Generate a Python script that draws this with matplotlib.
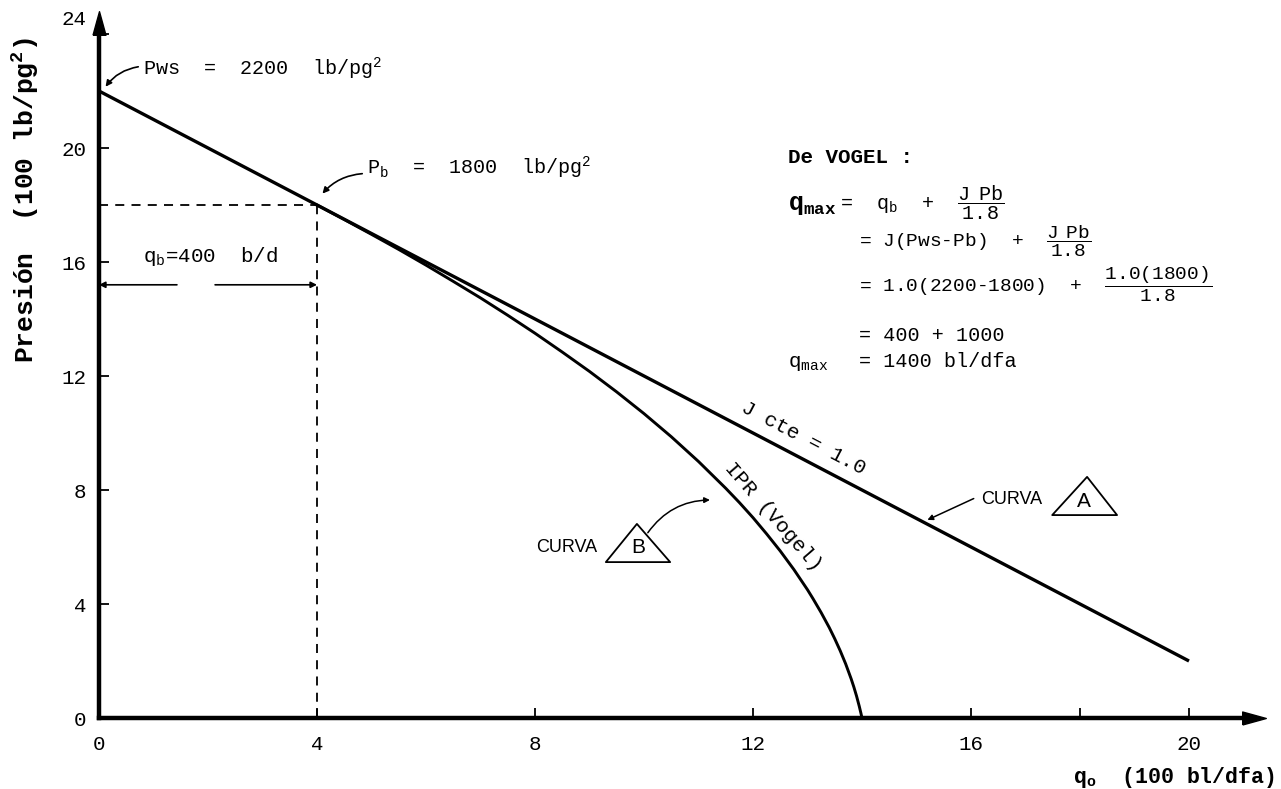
"""
IPR de Vogel vs. linea de J constante (curvas A y B), redibujado en matplotlib.
"""

import math

import matplotlib
matplotlib.use("Agg")
import matplotlib.pyplot as plt
from matplotlib.patches import Polygon
from matplotlib.transforms import ScaledTranslation


# --- datos (q en 100 bl/dia, P en 100 lb/pg2) ---
Q_LINEA_A = [0.0, 20.0]
P_LINEA_A = [22.0, 2.0]

Q_IPR = [4.0, 4.5, 5.0, 5.5, 6.0, 6.5, 7.0, 7.5, 8.0, 8.5, 9.0, 9.5, 10.0, 10.5,
         11.0, 11.5, 11.75, 12.0, 12.25, 12.5, 12.75, 13.0, 13.1, 13.25, 13.4,
         13.5, 13.6, 13.7, 13.8, 13.85, 13.9, 13.95, 13.98, 14.0]
P_IPR = [18.0, 17.49, 16.97, 16.44, 15.89, 15.32, 14.74, 14.13, 13.5, 12.84, 12.16,
         11.44, 10.68, 9.87, 9.0, 8.06, 7.56, 7.03, 6.46, 5.86, 5.21, 4.5, 4.19,
         3.7, 3.17, 2.78, 2.36, 1.9, 1.38, 1.09, 0.77, 0.41, 0.17, 0.0]

Q_B = 4.0      # gasto en el punto de burbuja
P_B = 18.0     # presion de burbuja
P_WS = 22.0    # presion estatica
P_COTA_QB = 15.2

X_TICKS = [0, 4, 8, 12, 16, 20]
X_MINOR_TICKS = [18]
Y_TICKS = [0, 4, 8, 12, 16, 20, 24]

# --- geometria de la figura ---
W_PX, H_PX = 1281, 789
X0_PX, Y0_PX = 99, 718
PX_POR_Q, PX_POR_P = 54.5, 28.5
X_MAX, Y_MAX = 21.2, 24.4

MONO = ["Liberation Mono", "DejaVu Sans Mono"]
SANS = ["Liberation Sans", "DejaVu Sans"]

plt.rcParams["font.family"] = MONO
plt.rcParams["mathtext.fontset"] = "custom"
plt.rcParams["mathtext.rm"] = "Liberation Mono"
plt.rcParams["mathtext.it"] = "Liberation Mono"
plt.rcParams["mathtext.bf"] = "Liberation Mono:bold"


def screen_angle(ax, x1, y1, x2, y2):
    p1 = ax.transData.transform((x1, y1))
    p2 = ax.transData.transform((x2, y2))
    return math.degrees(math.atan2(p2[1] - p1[1], p2[0] - p1[0]))


fig = plt.figure(figsize=(W_PX / 100, H_PX / 100), dpi=100)
ax = fig.add_axes([
    X0_PX / W_PX,
    (H_PX - Y0_PX) / H_PX,
    X_MAX * PX_POR_Q / W_PX,
    Y_MAX * PX_POR_P / H_PX,
])
ax.set_xlim(0, X_MAX)
ax.set_ylim(0, Y_MAX)

# ejes con flecha
for side in ("top", "right"):
    ax.spines[side].set_visible(False)
for side in ("left", "bottom"):
    ax.spines[side].set_linewidth(3.2)
flecha_x = [(-1, -0.55), (1, 0), (-1, 0.55), (-1, -0.55)]
flecha_y = [(-0.55, -1), (0, 1), (0.55, -1), (-0.55, -1)]
ax.plot(1, 0, marker=flecha_x, ms=17, color="k", transform=ax.transAxes, clip_on=False)
ax.plot(0, 1, marker=flecha_y, ms=17, color="k", transform=ax.transAxes, clip_on=False)

ax.set_xticks(X_TICKS)
ax.set_xticks(X_MINOR_TICKS, minor=True)
ax.set_yticks(Y_TICKS)
ax.tick_params(which="both", direction="in", length=7, width=1.3, labelsize=15)
ax.tick_params(axis="x", pad=12)
ax.tick_params(axis="y", pad=9)
for lbl in ax.get_yticklabels():
    if lbl.get_text() == "24":
        lbl.set_transform(lbl.get_transform() + ScaledTranslation(0, 12 / 72, fig.dpi_scale_trans))

ax.set_ylabel(r"Presión  (100 lb/p$\mathbf{g^{2}}$)", fontsize=19, fontweight="bold")
ax.yaxis.set_label_coords(-0.05, 0.745)
ax.text(1.018, -0.085, r"$\mathbf{q_o}$  (100 bl/dfa)", transform=ax.transAxes,
        ha="right", va="center", fontsize=15.5, fontweight="bold")

# curvas
ax.plot(Q_LINEA_A, P_LINEA_A, color="k", lw=2.4, solid_capstyle="butt")
ax.plot(Q_IPR, P_IPR, color="k", lw=2.1)

# lineas punteadas al punto de burbuja
ax.plot([0, Q_B], [P_B, P_B], color="k", lw=1.3, ls=(0, (5, 4)))
ax.plot([Q_B, Q_B], [0, P_B], color="k", lw=1.3, ls=(0, (5, 4)))

# cota de q_b
cota = dict(arrowstyle="-|>", lw=1.2, color="k", mutation_scale=9, shrinkA=0, shrinkB=0)
ax.annotate("", xy=(0, P_COTA_QB), xytext=(1.43, P_COTA_QB), arrowprops=cota)
ax.annotate("", xy=(Q_B, P_COTA_QB), xytext=(2.13, P_COTA_QB), arrowprops=cota)
ax.text(0.81, 16.0, r"$\mathregular{q_b}$=400  b/d", fontsize=15, va="baseline")

# etiquetas de Pws y Pb
guia = dict(arrowstyle="-|>", lw=1.2, color="k", mutation_scale=9, shrinkA=0, shrinkB=0,
            connectionstyle="arc3,rad=0.2")
ax.text(0.81, 22.55, r"Pws  =  2200  lb/p$\mathregular{g^{2}}$", fontsize=14.5, va="baseline")
ax.annotate("", xy=(0.12, 22.15), xytext=(0.72, 22.85), arrowprops=guia)
ax.text(4.92, 19.1, r"$\mathregular{P_b}$  =  1800  lb/p$\mathregular{g^{2}}$", fontsize=14.5,
        va="baseline")
ax.annotate("", xy=(4.1, 18.4), xytext=(4.83, 19.1), arrowprops=guia)

# rotulos sobre las curvas
ang_a = screen_angle(ax, Q_LINEA_A[0], P_LINEA_A[0], Q_LINEA_A[1], P_LINEA_A[1])
ax.text(12.92, 9.82, "J cte = 1.0", fontsize=15, rotation=ang_a, rotation_mode="anchor",
        ha="center", va="center")
i1, i2 = Q_IPR.index(11.5), Q_IPR.index(12.5)
ang_b = screen_angle(ax, Q_IPR[i1], P_IPR[i1], Q_IPR[i2], P_IPR[i2])
ax.text(12.37, 7.05, "IPR (Vogel)", fontsize=15, rotation=ang_b, rotation_mode="anchor",
        ha="center", va="center")

# CURVA A
ax.text(16.75, 7.65, "CURVA", family=SANS, fontsize=13, ha="center", va="center")
ax.add_patch(Polygon([(17.49, 7.12), (18.13, 8.46), (18.68, 7.12)], closed=True,
                     fill=False, lw=1.3, ec="k", joinstyle="round"))
ax.text(18.08, 7.58, "A", family=SANS, fontsize=15, ha="center", va="center")
ax.annotate("", xy=(15.2, 6.95), xytext=(16.05, 7.7),
            arrowprops=dict(arrowstyle="-|>", lw=1.1, color="k", mutation_scale=8,
                            shrinkA=0, shrinkB=0))

# CURVA B
ax.text(8.59, 6.0, "CURVA", family=SANS, fontsize=13, ha="center", va="center")
ax.add_patch(Polygon([(9.30, 5.47), (9.87, 6.81), (10.48, 5.47)], closed=True,
                     fill=False, lw=1.3, ec="k", joinstyle="round"))
ax.text(9.89, 5.98, "B", family=SANS, fontsize=15, ha="center", va="center")
ax.annotate("", xy=(11.21, 7.65), xytext=(10.07, 6.5),
            arrowprops=dict(arrowstyle="-|>", lw=1.1, color="k", mutation_scale=8,
                            shrinkA=0, shrinkB=0, connectionstyle="arc3,rad=-0.25"))

# desarrollo de Vogel
ax.text(12.65, 19.47, "De VOGEL :", fontsize=15, fontweight="bold", va="baseline")
ax.text(12.65, 17.82, r"$\mathbf{q_{max}}$", fontsize=18, va="baseline")
ax.text(13.6, 17.82, r"=  $\mathregular{q_b}$  +  $\dfrac{J\ \ Pb}{1.8}$", fontsize=14.5,
        va="baseline")
ax.text(13.94, 16.52, r"= J(Pws-Pb)  +  $\dfrac{J\ \ Pb}{1.8}$", fontsize=14, va="baseline")
ax.text(13.94, 14.94, r"= 1.0(2200-1800)  +  $\dfrac{1.0(1800)}{1.8}$", fontsize=14,
        va="baseline")
ax.text(13.94, 13.22, "= 400 + 1000", fontsize=14.5, va="baseline")
ax.text(12.65, 12.31, r"$\mathregular{q_{max}}$", fontsize=15, va="baseline")
ax.text(13.94, 12.31, "= 1400 bl/dfa", fontsize=14.5, va="baseline")

fig.savefig("out.png", dpi=100)
